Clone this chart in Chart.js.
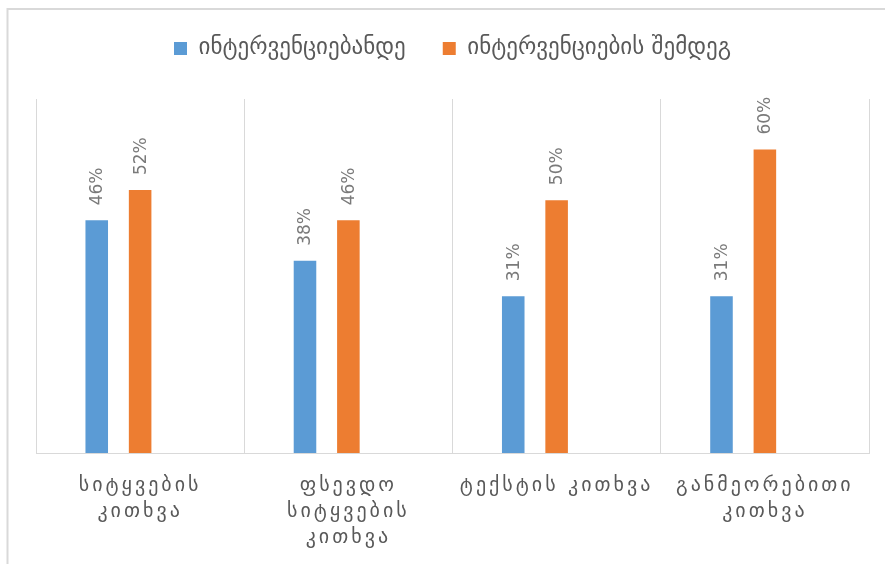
<!DOCTYPE html>
<html>
<head>
<meta charset="utf-8">
<script src="https://cdn.jsdelivr.net/npm/chart.js@4.4.1/dist/chart.umd.min.js"></script>
<style>
  html, body { margin: 0; padding: 0; background: #fff; }
  #wrap { width: 885px; height: 564px; position: relative; }
</style>
</head>
<body>
<div id="wrap"><canvas id="c"></canvas></div>
<script>
// ── data ──
var categories = [
  ['სიტყვების', 'კითხვა'],
  ['ფსევდო', 'სიტყვების', 'კითხვა'],
  'ტექსტის კითხვა',
  ['განმეორებითი', 'კითხვა']
];
var seriesNames = ['ინტერვენციებანდე', 'ინტერვენციების შემდეგ'];
var beforeValues = [46, 38, 31, 31];
var afterValues  = [52, 46, 50, 60];
// third (empty) series slot — the source chart keeps a blank column per group
var emptyValues  = [null, null, null, null];

var BLUE = '#5B9BD5', ORANGE = '#ED7D31';
var GRID = '#d9d9d9', TEXT = '#595959', LABEL = '#7a7a7a';
var FONT = "'DejaVu Sans', sans-serif";

// outer frame of the chart object (cropped at right/bottom in the source)
var framePlugin = {
  id: 'frame',
  beforeDraw: function(chart) {
    var ctx = chart.ctx;
    ctx.save();
    ctx.strokeStyle = GRID;
    ctx.lineWidth = 2;
    ctx.strokeRect(7.5, 9, 1200, 1200);
    ctx.restore();
  }
};

// push the plot down below the legend
var legendGap = {
  id: 'legendGap',
  beforeInit: function(chart) {
    var fit = chart.legend.fit;
    chart.legend.fit = function() {
      fit.bind(chart.legend)();
      this.height += 29;
    };
  }
};

// rotated value labels above each bar, then widen spacing for category labels
var valueLabels = {
  id: 'valueLabels',
  afterDatasetsDraw: function(chart) {
    var ctx = chart.ctx;
    ctx.save();
    ctx.font = '17px ' + FONT;
    ctx.fillStyle = LABEL;
    ctx.textAlign = 'left';
    ctx.textBaseline = 'middle';
    chart.data.datasets.forEach(function(ds, i) {
      var meta = chart.getDatasetMeta(i);
      meta.data.forEach(function(bar, j) {
        var v = ds.data[j];
        if (v == null) return;
        ctx.save();
        ctx.translate(bar.x + 1, bar.y - 15);
        ctx.rotate(-Math.PI / 2);
        ctx.fillText(v + '%', 0, 0);
        ctx.restore();
      });
    });
    ctx.restore();
    ctx.letterSpacing = '3px';
  },
  afterDraw: function(chart) {
    chart.ctx.letterSpacing = '0px';
  }
};

new Chart(document.getElementById('c'), {
  type: 'bar',
  data: {
    labels: categories,
    datasets: [
      { label: seriesNames[0], data: beforeValues, backgroundColor: BLUE },
      { label: seriesNames[1], data: afterValues, backgroundColor: ORANGE },
      { label: '', data: emptyValues, backgroundColor: 'rgba(0,0,0,0)' }
    ]
  },
  options: {
    responsive: true,
    maintainAspectRatio: false,
    animation: false,
    categoryPercentage: 0.625,
    barPercentage: 0.52,
    layout: { padding: { left: 36, right: 16, top: 0, bottom: 0 } },
    plugins: {
      legend: {
        position: 'top',
        labels: {
          color: TEXT,
          font: { family: FONT, size: 23 },
          boxWidth: 13,
          boxHeight: 13,
          padding: 37,
          filter: function(item) { return item.text !== ''; }
        }
      },
      tooltip: { enabled: false }
    },
    scales: {
      x: {
        offset: true,
        grid: { display: true, offset: true, color: GRID, lineWidth: 1, drawTicks: false },
        border: { display: true, color: GRID, width: 1 },
        ticks: {
          z: 1,
          color: TEXT,
          padding: 20,
          maxRotation: 0,
          autoSkip: false,
          font: { family: FONT, size: 20, lineHeight: 1.3 }
        },
        afterFit: function(scale) { scale.height = 111; }
      },
      y: {
        display: false,
        min: 0,
        max: 70
      }
    }
  },
  plugins: [framePlugin, legendGap, valueLabels]
});
</script>
</body>
</html>
